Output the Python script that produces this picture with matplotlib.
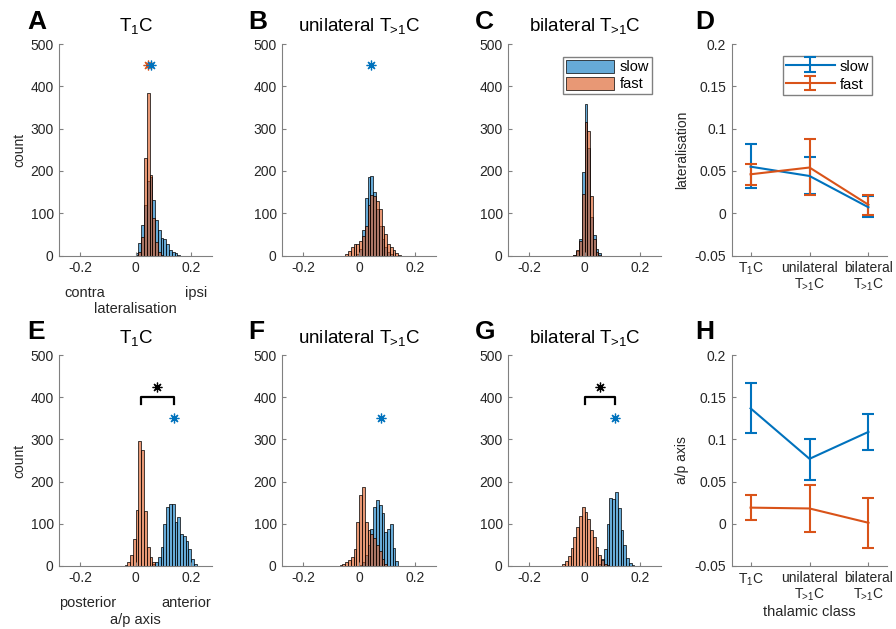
import numpy as np
import matplotlib
matplotlib.use('Agg')
import matplotlib.pyplot as plt

plt.rcParams['font.family'] = ['Liberation Sans', 'DejaVu Sans']
plt.rcParams['mathtext.fontset'] = 'custom'
plt.rcParams['mathtext.rm'] = 'Liberation Sans'
plt.rcParams['mathtext.it'] = 'Liberation Sans:italic'
plt.rcParams['mathtext.default'] = 'regular'

# ---------------- data ----------------
bin_width = 0.01
bin_lo, bin_hi = -0.25, 0.25

# lateralisation histograms (start = left edge of first listed bin)
lat_t1_slow_start, lat_t1_slow = 0.00, [5, 29, 72, 120, 175, 185, 131, 85, 60, 42, 38, 28, 12, 8, 5, 2]
lat_t1_fast_start, lat_t1_fast = 0.00, [2, 8, 43, 230, 385, 190, 88, 33, 8, 2]
lat_uni_slow_start, lat_uni_slow = -0.01, [3, 15, 60, 135, 185, 188, 150, 110, 70, 40, 20, 8, 3]
lat_uni_fast_start, lat_uni_fast = -0.05, [3, 10, 20, 27, 28, 35, 45, 70, 120, 142, 140, 128, 110, 70, 50, 28, 20, 12, 5, 2]
lat_bi_slow_start, lat_bi_slow = -0.04, [2, 10, 39, 198, 357, 255, 92, 48, 15, 5]
lat_bi_fast_start, lat_bi_fast = -0.04, [2, 13, 35, 146, 315, 294, 140, 40, 8, 2]

# a/p histograms
ap_t1_slow_start, ap_t1_slow = 0.06, [3, 8, 20, 45, 100, 140, 146, 146, 105, 115, 75, 70, 58, 40, 15, 5]
ap_t1_fast_start, ap_t1_fast = -0.04, [2, 8, 25, 63, 132, 297, 275, 130, 45, 21, 8]
ap_uni_slow_start, ap_uni_slow = 0.00, [2, 8, 25, 50, 87, 140, 156, 144, 125, 81, 88, 100, 41, 10]
ap_uni_fast_start, ap_uni_fast = -0.07, [2, 5, 9, 14, 20, 40, 105, 168, 186, 105, 85, 75, 65, 50, 35, 15, 5]
ap_bi_slow_start, ap_bi_slow = 0.05, [5, 15, 40, 100, 160, 158, 174, 137, 85, 50, 18, 6, 2]
ap_bi_fast_start, ap_bi_fast = -0.08, [3, 10, 22, 42, 68, 93, 117, 140, 128, 110, 86, 68, 45, 25, 13, 5, 2]

# summary panels
classes = ['T$_1$C', 'unilateral\nT$_{\\!\\!>\\!1}$C', 'bilateral\nT$_{\\!\\!>\\!1}$C']
lat_slow_mean = [0.055, 0.044, 0.007]
lat_slow_lo = [0.030, 0.023, -0.005]
lat_slow_hi = [0.082, 0.066, 0.020]
lat_fast_mean = [0.046, 0.054, 0.010]
lat_fast_lo = [0.033, 0.021, -0.002]
lat_fast_hi = [0.058, 0.088, 0.021]
ap_slow_mean = [0.137, 0.077, 0.109]
ap_slow_lo = [0.108, 0.052, 0.088]
ap_slow_hi = [0.167, 0.101, 0.130]
ap_fast_mean = [0.019, 0.018, 0.001]
ap_fast_lo = [0.004, -0.010, -0.029]
ap_fast_hi = [0.034, 0.046, 0.031]

# significance marks: (slow star, fast star, bracket)
lat_marks = [(True, True, False), (True, False, False), (False, False, False)]
ap_marks = [(True, False, True), (True, False, False), (True, False, True)]

titles = ['T$_1$C', 'unilateral T$_{\\!\\!>\\!1}$C', 'bilateral T$_{\\!\\!>\\!1}$C']
letters_top = ['A', 'B', 'C', 'D']
letters_bot = ['E', 'F', 'G', 'H']

# ---------------- style ----------------
BLUE = (0.0, 0.447, 0.741)
ORANGE = (0.85, 0.325, 0.098)
AX = (0.15, 0.15, 0.15)
W, H = 896, 629
TICK_FS = 10

fig = plt.figure(figsize=(W / 100, H / 100), dpi=100)


def px_axes(x0, x1, ytop, ybot):
    return fig.add_axes([x0 / W, 1 - ybot / H, (x1 - x0) / W, (ybot - ytop) / H])


def style(ax):
    for s in ['top', 'right']:
        ax.spines[s].set_visible(False)
    for s in ['left', 'bottom']:
        ax.spines[s].set_color((0.5, 0.5, 0.5))
        ax.spines[s].set_linewidth(0.8)
    ax.tick_params(direction='in', length=3, width=0.8, colors=(0.5, 0.5, 0.5),
                   labelcolor=AX, labelsize=TICK_FS, pad=4)


def full_counts(start, vals):
    n = int(round((bin_hi - bin_lo) / bin_width))
    c = np.zeros(n)
    i0 = int(round((start - bin_lo) / bin_width))
    c[i0:i0 + len(vals)] = vals
    return c


edges = np.linspace(bin_lo, bin_hi, int(round((bin_hi - bin_lo) / bin_width)) + 1)
centers = (edges[:-1] + edges[1:]) / 2

cols_x = [(59.3, 212.0), (282.3, 436.0), (508.3, 660.7), (731.7, 887.3)]
rows_y = [(44.0, 255.5), (355.3, 565.7)]
letters_x = [27, 248, 475, 695]
letters_base = [29, 339]

hist_sets = [
    [(lat_t1_slow_start, lat_t1_slow, lat_t1_fast_start, lat_t1_fast),
     (lat_uni_slow_start, lat_uni_slow, lat_uni_fast_start, lat_uni_fast),
     (lat_bi_slow_start, lat_bi_slow, lat_bi_fast_start, lat_bi_fast)],
    [(ap_t1_slow_start, ap_t1_slow, ap_t1_fast_start, ap_t1_fast),
     (ap_uni_slow_start, ap_uni_slow, ap_uni_fast_start, ap_uni_fast),
     (ap_bi_slow_start, ap_bi_slow, ap_bi_fast_start, ap_bi_fast)],
]
means = [(lat_slow_mean, lat_fast_mean), (ap_slow_mean, ap_fast_mean)]
marks = [lat_marks, ap_marks]
star_y = [450, 350]
star_marker = (8, 2, 0)

for r in range(2):
    for c in range(3):
        ax = px_axes(cols_x[c][0], cols_x[c][1], rows_y[r][0], rows_y[r][1])
        style(ax)
        ss, sv, fs, fv = hist_sets[r][c]
        hs = ax.bar(centers, full_counts(ss, sv), width=bin_width,
                    facecolor=BLUE + (0.6,), edgecolor='k', linewidth=0.5, label='slow')
        hf = ax.bar(centers, full_counts(fs, fv), width=bin_width,
                    facecolor=ORANGE + (0.6,), edgecolor='k', linewidth=0.5, label='fast')
        ax.set_xlim(-0.275, 0.275)
        ax.set_ylim(0, 500)
        ax.set_xticks([-0.2, 0, 0.2])
        ax.set_xticklabels(['-0.2', '0', '0.2'])
        ax.set_yticks([0, 100, 200, 300, 400, 500])
        ax.set_yticklabels(['0', '100', '200', '300', '400', '500'])
        ax.set_title(titles[c], fontsize=13.5, pad=9, color='k')
        ms, mf = means[r][0][c], means[r][1][c]
        slow_star, fast_star, bracket = marks[r][c]
        if fast_star:
            ax.plot([mf], [star_y[r]], marker=star_marker, color=ORANGE, ms=7, mew=0.9, ls='none')
        if slow_star:
            ax.plot([ms], [star_y[r]], marker=star_marker, color=BLUE, ms=7, mew=0.9, ls='none')
        if bracket:
            ax.plot([mf, mf, ms, ms], [385, 400, 400, 385], color='k', lw=1.6)
            ax.plot([(mf + ms) / 2], [425], marker=star_marker, color='k', ms=7, mew=0.9, ls='none')
        if c == 0:
            ax.set_ylabel('count', fontsize=10, color=AX, labelpad=3)
        if r == 0 and c == 2:
            ax.legend(handles=[hs, hf], loc='upper right', bbox_to_anchor=(0.943, 0.9385),
                      fontsize=10.5, frameon=True, fancybox=False, framealpha=1,
                      edgecolor=(0.5, 0.5, 0.5), handlelength=3.3, handleheight=1.0,
                      borderpad=0.2, labelspacing=0.15, handletextpad=0.4, borderaxespad=0)

# x-annotations under first column
fig.text(85 / W, 1 - 293 / H, 'contra', ha='center', va='center', fontsize=10.5, color=AX)
fig.text(196 / W, 1 - 293 / H, 'ipsi', ha='center', va='center', fontsize=10.5, color=AX)
fig.text(135 / W, 1 - 309 / H, 'lateralisation', ha='center', va='center', fontsize=10.5, color=AX)
fig.text(88 / W, 1 - 603 / H, 'posterior', ha='center', va='center', fontsize=10.5, color=AX)
fig.text(186 / W, 1 - 603 / H, 'anterior', ha='center', va='center', fontsize=10.5, color=AX)
fig.text(135 / W, 1 - 620 / H, 'a/p axis', ha='center', va='center', fontsize=10.5, color=AX)

# summary panels
summ = [
    (lat_slow_mean, lat_slow_lo, lat_slow_hi, lat_fast_mean, lat_fast_lo, lat_fast_hi, 'lateralisation'),
    (ap_slow_mean, ap_slow_lo, ap_slow_hi, ap_fast_mean, ap_fast_lo, ap_fast_hi, 'a/p axis'),
]
xpos = np.arange(1, len(classes) + 1)
for r in range(2):
    sm, slo, shi, fm, flo, fhi, lab = summ[r]
    ax = px_axes(cols_x[3][0], cols_x[3][1], rows_y[r][0], rows_y[r][1])
    style(ax)
    sm, slo, shi = map(np.array, (sm, slo, shi))
    fm, flo, fhi = map(np.array, (fm, flo, fhi))
    ax.errorbar(xpos, sm, yerr=[sm - slo, shi - sm], color=BLUE, lw=1.5, capsize=4.5,
                capthick=1.5, elinewidth=1.5, label='slow')
    ax.errorbar(xpos, fm, yerr=[fm - flo, fhi - fm], color=ORANGE, lw=1.5, capsize=4.5,
                capthick=1.5, elinewidth=1.5, label='fast')
    ax.set_xlim(0.68, 3.32)
    ax.set_ylim(-0.05, 0.2)
    ax.set_yticks([-0.05, 0, 0.05, 0.1, 0.15, 0.2])
    ax.set_yticklabels(['-0.05', '0', '0.05', '0.1', '0.15', '0.2'])
    ax.set_xticks(xpos)
    ax.set_xticklabels(classes, fontsize=10, linespacing=1.15)
    ax.set_ylabel(lab, fontsize=10, color=AX, labelpad=4)
    if r == 0:
        ax.legend(loc='upper right', bbox_to_anchor=(0.902, 0.9447), fontsize=10.5,
                  frameon=True, fancybox=False, framealpha=1, edgecolor=(0.5, 0.5, 0.5),
                  handlelength=3.4, handleheight=1.1, borderpad=0.2, labelspacing=0.25,
                  handletextpad=0.3, borderaxespad=0)
    else:
        ax.set_xlabel('thalamic class', fontsize=10.5, color=AX, labelpad=1)

# panel letters
for r, letters in enumerate([letters_top, letters_bot]):
    for c in range(4):
        fig.text(letters_x[c] / W, 1 - letters_base[r] / H, letters[c], fontsize=19,
                 fontweight='bold', ha='left', va='baseline')

fig.savefig('out.png', dpi=100)
